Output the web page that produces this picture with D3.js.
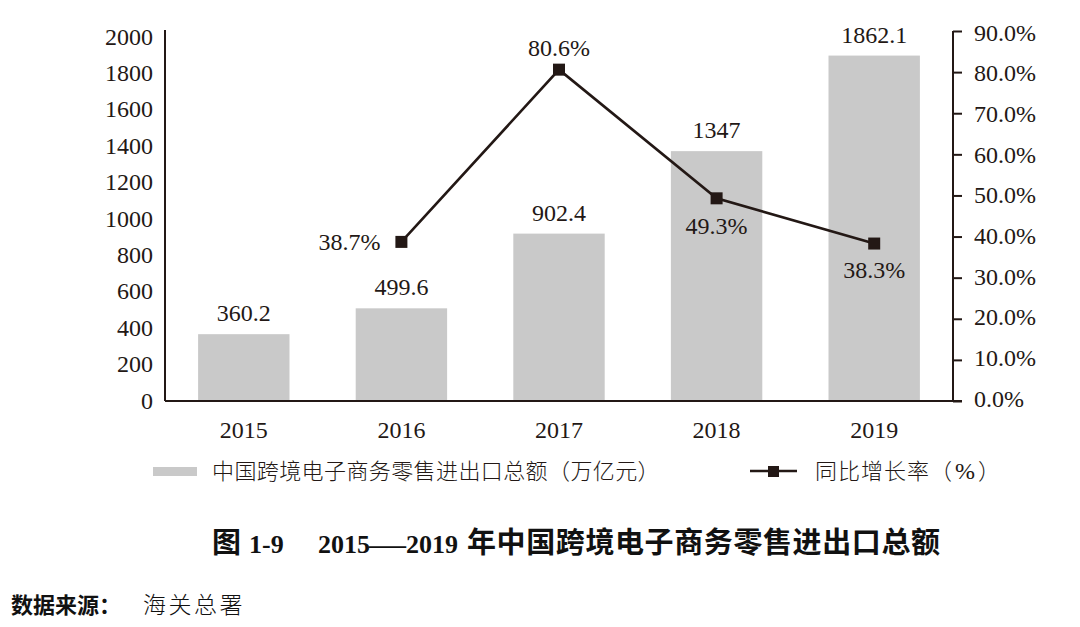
<!DOCTYPE html>
<html><head><meta charset="utf-8">
<script src="https://cdn.jsdelivr.net/npm/d3@7"></script>
<style>
html,body{margin:0;padding:0;background:#fff;}
svg{display:block;}
</style></head>
<body>
<svg id="c" width="1080" height="627"></svg>
<script>
const years = ["2015","2016","2017","2018","2019"];
const totals = [360.2, 499.6, 902.4, 1347, 1862.1];
const totalLabels = ["360.2","499.6","902.4","1347","1862.1"];
const growthYears = ["2016","2017","2018","2019"];
const growth = [38.7, 80.6, 49.3, 38.3];
const leftTicks = [0,200,400,600,800,1000,1200,1400,1600,1800,2000];
const rightTicks = [0,10,20,30,40,50,60,70,80,90];
const legendBar = "中国跨境电子商务零售进出口总额（万亿元）";
const legendLineParts = ["同比增长率（", "%", "）"];
const titleParts = ["图", "1-9", "2015", "—", "2019", "年中国跨境电子商务零售进出口总额"];
const sourceLabel = "数据来源：";
const sourceText = "海关总署";

const ink = "#231815";
const barColor = "#c9c9c9";
const serif = "'Liberation Serif','Times New Roman',serif";
const cjk = "'Noto Sans CJK SC','Noto Sans',sans-serif";

const svg = d3.select("#c");
const L = 165, R = 953, B = 401, T = 30;

const x = d3.scaleBand().domain(years).range([L, R]).paddingInner(0.42).paddingOuter(0.21);
const yL = d3.scaleLinear().domain([0, 2000]).range([B, T]);
const yLabel = d3.scaleLinear().domain([0, 2000]).range([400, 36]);
const yR = d3.scaleLinear().domain([0, 90]).range([B, T + 1]);
const yRLabel = d3.scaleLinear().domain([0, 90]).range([398, 32]);

// bars
svg.append("g").selectAll("rect").data(years).join("rect")
  .attr("x", d => x(d)).attr("width", x.bandwidth())
  .attr("y", (d,i) => yL(totals[i])).attr("height", (d,i) => B - yL(totals[i]))
  .attr("fill", barColor);

// bar labels
svg.append("g").selectAll("text").data(years).join("text")
  .attr("x", d => x(d) + x.bandwidth()/2)
  .attr("y", (d,i) => yL(totals[i]) - 13)
  .attr("text-anchor","middle")
  .attr("font-family", serif).attr("font-size", 24).attr("fill", ink)
  .text((d,i) => totalLabels[i]);

// left axis
const gL = svg.append("g").attr("transform", `translate(${L},0)`)
  .call(d3.axisLeft(yL).tickValues(leftTicks).tickSize(0).tickPadding(12).tickFormat(d3.format("d")));
gL.select(".domain").attr("stroke", ink).attr("stroke-width", 2).attr("d", `M0,${T}V${B}`);
gL.selectAll(".tick text").attr("font-family", serif).attr("font-size", 24).attr("fill", ink)
  .attr("dy", null).attr("dominant-baseline", "central")
  .attr("y", d => yLabel(d) - yL(d));

// right axis
const gR = svg.append("g").attr("transform", `translate(${R},0)`)
  .call(d3.axisRight(yR).tickValues(rightTicks).tickSize(9).tickPadding(12).tickFormat(d => d.toFixed(1) + "%"));
gR.select(".domain").attr("stroke", ink).attr("stroke-width", 2).attr("d", `M0,${yR(90)}V${B}`);
gR.selectAll(".tick line").attr("stroke", ink).attr("stroke-width", 2);
gR.selectAll(".tick text").attr("font-family", serif).attr("font-size", 24).attr("fill", ink)
  .attr("dy", null).attr("dominant-baseline", "central")
  .attr("y", d => yRLabel(d) - yR(d));

// bottom axis
const gB = svg.append("g").attr("transform", `translate(0,${B})`)
  .call(d3.axisBottom(x).tickSize(0).tickPadding(20));
gB.select(".domain").attr("stroke", ink).attr("stroke-width", 2).attr("d", `M${L},0H${R+9}`);
gB.selectAll("text").attr("font-family", serif).attr("font-size", 24).attr("fill", ink);

// line
const cx = d => x(d) + x.bandwidth()/2;
const line = d3.line().x((d,i) => cx(growthYears[i])).y(d => yR(d));
svg.append("path").datum(growth).attr("d", line)
  .attr("fill","none").attr("stroke", ink).attr("stroke-width", 2.6);
const ms = 12;
svg.append("g").selectAll("rect").data(growth).join("rect")
  .attr("x", (d,i) => cx(growthYears[i]) - ms/2).attr("y", d => yR(d) - ms/2)
  .attr("width", ms).attr("height", ms).attr("fill", ink);

// line labels
const lblPos = [
  {dx:-21, dy:8, anchor:"end"},
  {dx:0, dy:-14, anchor:"middle"},
  {dx:0, dy:36, anchor:"middle"},
  {dx:0, dy:34, anchor:"middle"}
];
svg.append("g").selectAll("text").data(growth).join("text")
  .attr("x", (d,i) => cx(growthYears[i]) + lblPos[i].dx)
  .attr("y", (d,i) => yR(d) + lblPos[i].dy)
  .attr("text-anchor", (d,i) => lblPos[i].anchor)
  .attr("font-family", serif).attr("font-size", 24).attr("fill", ink)
  .text(d => d.toFixed(1) + "%");

// legend
const lg = svg.append("g");
lg.append("rect").attr("x", 153).attr("y", 467).attr("width", 44).attr("height", 9).attr("fill", barColor);
lg.append("text").attr("x", 212).attr("y", 479).attr("font-family", cjk).attr("font-weight", 300)
  .attr("font-size", 22).attr("letter-spacing", 0.4).attr("fill", ink).text(legendBar);
lg.append("line").attr("x1", 750).attr("x2", 797).attr("y1", 471).attr("y2", 471)
  .attr("stroke", ink).attr("stroke-width", 2.6);
lg.append("rect").attr("x", 768).attr("y", 466).attr("width", 11).attr("height", 11).attr("fill", ink);
const lt = lg.append("text").attr("x", 815).attr("y", 479).attr("font-family", cjk).attr("font-weight", 300)
  .attr("font-size", 22).attr("letter-spacing", 1).attr("fill", ink);
lt.append("tspan").text(legendLineParts[0]);
lt.append("tspan").attr("font-family", serif).attr("font-size", 24).attr("dx", 2).text(legendLineParts[1]);
lt.append("tspan").attr("dx", 2).text(legendLineParts[2]);

// title
const titleX = [212, 249, 318, 369, 406, 467];
const titleFonts = [cjk, serif, serif, serif, serif, cjk];
const titleSizes = [29, 26, 26, 26, 26, 29];
const tt = svg.append("text").attr("y", 553).attr("font-weight", 700).attr("fill", "#111");
titleParts.forEach((p, i) => {
  const ts = tt.append("tspan").attr("x", titleX[i]).attr("font-family", titleFonts[i])
    .attr("font-size", titleSizes[i]).text(p);
  if (i === 3) ts.attr("textLength", 37).attr("lengthAdjust", "spacingAndGlyphs");
  if (i === 5) ts.attr("letter-spacing", 0.6);
});

// source
const st = svg.append("text").attr("y", 613).attr("fill", "#111");
st.append("tspan").attr("x", 11).attr("font-family", cjk).attr("font-weight", 700).attr("font-size", 22).text(sourceLabel);
st.append("tspan").attr("x", 143).attr("font-family", cjk).attr("font-weight", 300).attr("font-size", 23)
  .attr("letter-spacing", 2.5).text(sourceText);
</script>
</body></html>
